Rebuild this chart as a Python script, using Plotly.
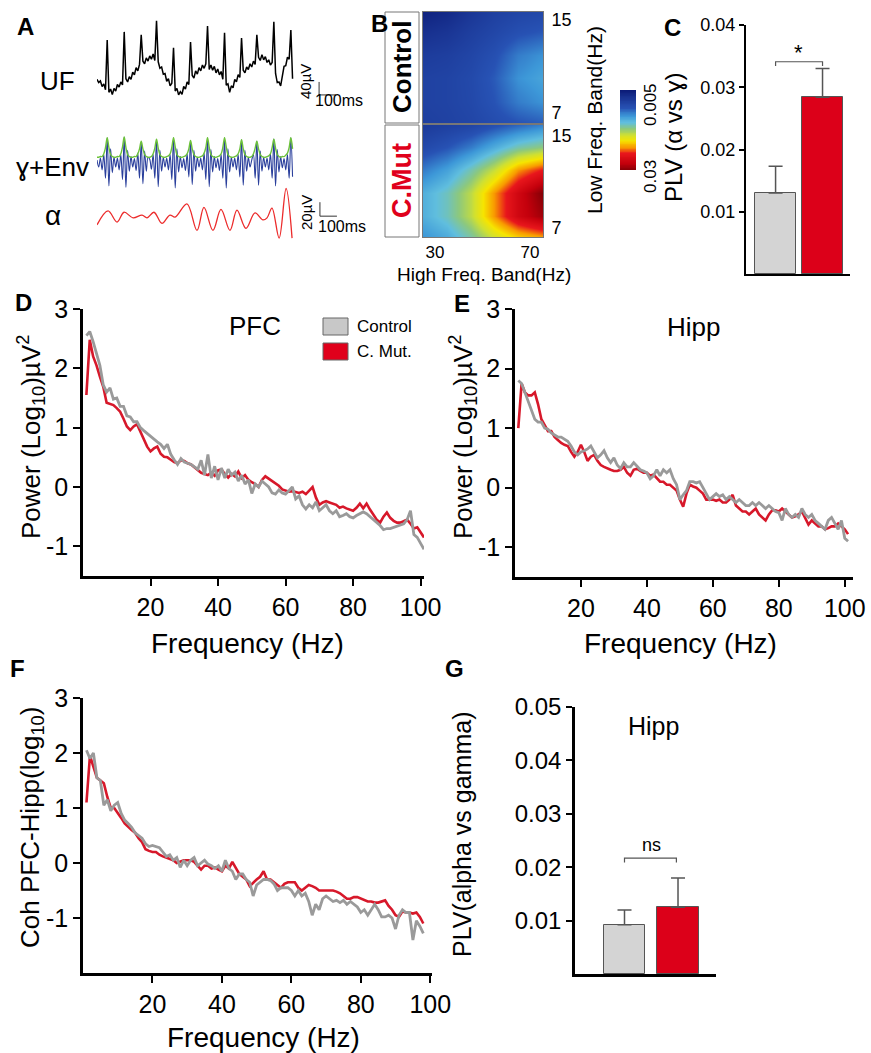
import numpy as np
import plotly.graph_objects as go

W, H = 871, 1053
FONT = "Liberation Sans, Arial, Helvetica, sans-serif"

# ---------------- DATA ----------------
# Panel A (traces), time grid in ms
t_ms = np.arange(116) * 10
uf_uV = [2, -8, -3, -20, -12, -30, 123, -38, -28, -45,
         -26, -34, -14, -22, -6, -15, 148, 4, -6, 10,
         2, 24, 16, 38, 28, 48, 139, 58, 50, 68,
         58, 74, 64, 80, 60, 182, 56, 36, 40, 18,
         20, -4, 4, -18, -10, 99, -34, -26, -46, -36,
         -44, -20, -28, -6, -14, 117, 14, 6, 28, 18,
         38, 28, 46, 36, 50, 166, 32, 46, 30, 42,
         22, 34, 16, 26, 2, 145, -16, -12, -38, -18,
         -24, 2, -6, 16, 8, 129, 30, 22, 40, 32,
         50, 40, 58, 48, 139, 70, 60, 78, 62, 72,
         54, 62, 46, 54, 179, 20, -8, -6, -18, 8,
         42, 44, 70, 64, 154, 4]
gamma_uV = [4, -6, 7, -10, 12, -22, 36, -33, 20, -14,
            8, -6, 7, -10, 12, -24, 37, -35, 18, -12,
            9, -6, 6, -11, 14, -22, 30, -30, 17, -12,
            8, 5, -9, 12, -22, 33, -34, 18, -12, 8,
            -6, 7, -10, 12, -24, 36, -36, 20, -13, 9,
            -7, 6, -11, 13, -20, 32, -31, 18, -12, 8,
            -6, 7, -10, 14, -24, 36, -34, 19, -13, 9,
            -7, 6, -11, 12, -22, 36, -36, 20, -13, 8,
            -6, 7, -10, 12, -20, 33, -32, 18, -12, 8,
            -6, 4, 12, -22, 31, -32, 17, -12, 8, -6,
            7, -10, 13, -22, 34, -33, 19, -13, 9, -7,
            6, -10, 12, -22, 36, -20]
env_uV = [8, 8, 9, 9, 13, 22, 36, 22, 12, 9,
          8, 8, 9, 9, 13, 23, 37, 22, 12, 9,
          8, 8, 9, 9, 13, 20, 31, 20, 12, 9,
          8, 8, 9, 13, 21, 34, 21, 12, 9, 8,
          8, 9, 10, 13, 22, 36, 23, 12, 9, 8,
          8, 9, 10, 13, 20, 32, 20, 12, 9, 8,
          8, 9, 10, 14, 22, 36, 22, 12, 9, 8,
          8, 9, 10, 13, 22, 36, 23, 12, 9, 8,
          8, 9, 10, 13, 20, 33, 20, 12, 9, 8,
          8, 9, 13, 21, 31, 20, 12, 9, 8, 8,
          9, 10, 13, 22, 34, 21, 12, 9, 8, 9,
          9, 11, 14, 22, 36, 20]
alpha_t_ms = [0, 65, 118, 159, 212, 265, 294, 335, 382, 429, 459, 529, 588,
              629, 682, 729, 782, 823, 876, 929, 976, 1000, 1029, 1071, 1112, 1147]
alpha_uV = [-11, 9, -7, 7, -1, 3, -1, 7, -9, 3, 0, 19, -19,
            14, -19, 11, -19, 10, -16, 6, -4, -1, 13, -30, 41, -30]

# Panel B (PLV comodulograms); rows = low_freq, columns = high_freq
high_freq = [25, 35, 45, 55, 65, 75]
low_freq = [6, 8, 10, 12, 14, 16]
plv_control = [
    [0.0085, 0.0088, 0.0092, 0.0098, 0.0103, 0.0107],
    [0.0088, 0.0090, 0.0095, 0.0105, 0.0120, 0.0128],
    [0.0088, 0.0090, 0.0096, 0.0108, 0.0128, 0.0136],
    [0.0082, 0.0085, 0.0092, 0.0102, 0.0120, 0.0128],
    [0.0070, 0.0075, 0.0085, 0.0093, 0.0102, 0.0107],
    [0.0055, 0.0062, 0.0075, 0.0085, 0.0090, 0.0093],
]
plv_cmut = [
    [0.0128, 0.0138, 0.0160, 0.0188, 0.0208, 0.0218],
    [0.0142, 0.0157, 0.0185, 0.0228, 0.0268, 0.0290],
    [0.0142, 0.0157, 0.0185, 0.0228, 0.0268, 0.0300],
    [0.0120, 0.0135, 0.0160, 0.0188, 0.0228, 0.0248],
    [0.0095, 0.0105, 0.0120, 0.0140, 0.0160, 0.0170],
    [0.0080, 0.0085, 0.0090, 0.0100, 0.0110, 0.0120],
]
cbar_levels = np.linspace(0.005, 0.03, 51)

# Panel C
groups = ["Control", "C. Mut."]
plv_c = [0.0130, 0.0284]
plv_c_err = [0.0043, 0.0046]

# Panel D (PFC power)
freq_de = np.arange(1, 102)
pfc_cmut = [1.55, 2.48, 2.20, 2.05, 1.86, 1.69, 1.42, 1.40, 1.38, 1.33,
            1.27, 1.15, 1.02, 0.96, 1.02, 1.06, 0.93, 0.79, 0.68, 0.60,
            0.65, 0.68, 0.56, 0.51, 0.50, 0.46, 0.42, 0.40, 0.45, 0.44,
            0.40, 0.38, 0.33, 0.28, 0.24, 0.22, 0.20, 0.24, 0.19, 0.28,
            0.30, 0.22, 0.16, 0.22, 0.18, 0.26, 0.15, 0.20, 0.12, 0.08,
            0.05, 0.00, 0.12, 0.18, 0.14, 0.10, 0.05, 0.02, -0.04, -0.06,
            -0.08, -0.07, -0.09, -0.10, -0.08, -0.12, -0.06, 0.00, -0.18, -0.30,
            -0.26, -0.24, -0.26, -0.28, -0.30, -0.35, -0.33, -0.36, -0.38, -0.40,
            -0.35, -0.28, -0.36, -0.28, -0.38, -0.46, -0.55, -0.60, -0.50, -0.43,
            -0.52, -0.57, -0.60, -0.60, -0.58, -0.55, -0.62, -0.70, -0.68, -0.76,
            -0.85]
pfc_control = [2.55, 2.62, 2.45, 2.25, 2.05, 1.72, 1.60, 1.67, 1.48, 1.50,
               1.36, 1.36, 1.20, 1.18, 1.10, 1.10, 1.00, 0.95, 0.90, 0.86,
               0.80, 0.76, 0.72, 0.65, 0.72, 0.55, 0.46, 0.38, 0.48, 0.42,
               0.40, 0.38, 0.34, 0.30, 0.45, 0.20, 0.55, 0.15, 0.35, 0.12,
               0.32, 0.15, 0.30, 0.20, 0.25, 0.10, 0.20, 0.05, 0.12, -0.11,
               0.05, 0.00, 0.10, 0.05, 0.00, -0.10, -0.12, -0.05, -0.10, -0.12,
               -0.05, 0.00, -0.20, -0.15, -0.30, -0.37, -0.30, -0.35, -0.25, -0.40,
               -0.35, -0.30, -0.40, -0.45, -0.40, -0.50, -0.48, -0.45, -0.50, -0.52,
               -0.48, -0.45, -0.42, -0.45, -0.50, -0.55, -0.60, -0.65, -0.72, -0.70,
               -0.70, -0.68, -0.66, -0.65, -0.62, -0.55, -0.40, -0.80, -0.85, -0.95,
               -1.05]

# Panel E (Hipp power)
hipp_cmut = [1.00, 1.75, 1.60, 1.55, 1.55, 1.60, 1.40, 1.15, 1.05, 0.95,
             0.95, 0.85, 0.80, 0.75, 0.72, 0.70, 0.60, 0.52, 0.60, 0.72,
             0.60, 0.45, 0.52, 0.55, 0.45, 0.38, 0.35, 0.32, 0.30, 0.28,
             0.28, 0.30, 0.35, 0.25, 0.20, 0.30, 0.32, 0.28, 0.25, 0.25,
             0.20, 0.22, 0.15, 0.10, 0.10, 0.05, 0.05, 0.00, -0.05, -0.20,
             -0.32, -0.10, 0.05, 0.02, 0.00, -0.05, -0.10, -0.20, -0.20, -0.20,
             -0.22, -0.20, -0.25, -0.25, -0.20, -0.12, -0.30, -0.35, -0.40, -0.40,
             -0.45, -0.40, -0.35, -0.45, -0.50, -0.55, -0.45, -0.38, -0.38, -0.40,
             -0.35, -0.40, -0.45, -0.50, -0.48, -0.45, -0.40, -0.50, -0.62, -0.55,
             -0.60, -0.65, -0.65, -0.70, -0.68, -0.65, -0.65, -0.60, -0.65, -0.70,
             -0.78]
hipp_control = [1.80, 1.75, 1.60, 1.45, 1.30, 1.15, 1.10, 1.10, 1.00, 0.98,
                0.92, 0.88, 0.85, 0.85, 0.82, 0.78, 0.70, 0.60, 0.55, 0.60,
                0.62, 0.65, 0.70, 0.60, 0.50, 0.55, 0.62, 0.50, 0.42, 0.50,
                0.38, 0.32, 0.42, 0.35, 0.35, 0.42, 0.35, 0.30, 0.28, 0.25,
                0.15, 0.20, 0.30, 0.20, 0.30, 0.25, 0.30, 0.15, 0.05, -0.20,
                -0.12, -0.05, 0.10, 0.10, 0.08, 0.10, 0.00, -0.10, -0.20, -0.15,
                -0.10, -0.15, -0.12, -0.20, -0.15, -0.20, -0.25, -0.20, -0.25, -0.30,
                -0.30, -0.25, -0.30, -0.25, -0.30, -0.35, -0.30, -0.35, -0.40, -0.42,
                -0.55, -0.35, -0.45, -0.50, -0.45, -0.50, -0.35, -0.45, -0.50, -0.45,
                -0.55, -0.60, -0.65, -0.70, -0.55, -0.50, -0.60, -0.70, -0.55, -0.85,
                -0.90]

# Panel F (PFC-Hipp coherence)
freq_f = np.arange(1, 99)
coh_cmut = [1.10, 1.95, 1.75, 1.55, 1.50, 1.45, 1.20, 1.00, 1.00, 0.92,
            0.82, 0.72, 0.65, 0.60, 0.55, 0.45, 0.38, 0.25, 0.22, 0.20,
            0.20, 0.15, 0.12, 0.10, 0.08, 0.05, 0.00, 0.03, 0.05, 0.05,
            0.05, 0.02, -0.05, -0.12, -0.05, -0.05, -0.10, -0.08, -0.12, -0.15,
            -0.05, -0.10, 0.02, -0.10, -0.20, -0.25, -0.30, -0.42, -0.35, -0.30,
            -0.25, -0.15, -0.30, -0.30, -0.35, -0.40, -0.45, -0.38, -0.35, -0.35,
            -0.35, -0.45, -0.50, -0.45, -0.40, -0.42, -0.45, -0.50, -0.50, -0.50,
            -0.50, -0.50, -0.52, -0.55, -0.60, -0.65, -0.65, -0.62, -0.62, -0.65,
            -0.68, -0.70, -0.70, -0.72, -0.72, -0.70, -0.68, -0.78, -0.85, -0.95,
            -0.98, -0.88, -0.90, -0.90, -0.92, -0.90, -0.98, -1.10]
coh_control = [2.05, 1.90, 2.00, 1.55, 1.50, 1.05, 1.15, 0.95, 1.05, 1.10,
               0.90, 0.78, 0.72, 0.65, 0.55, 0.50, 0.45, 0.35, 0.30, 0.32,
               0.30, 0.28, 0.20, 0.12, 0.15, 0.05, 0.10, -0.08, 0.05, -0.05,
               0.05, 0.10, -0.05, 0.00, 0.05, -0.02, -0.05, -0.10, -0.05, -0.15,
               0.05, -0.10, -0.15, -0.30, -0.20, -0.20, -0.30, -0.35, -0.60, -0.40,
               -0.35, -0.30, -0.30, -0.32, -0.38, -0.50, -0.45, -0.45, -0.45, -0.50,
               -0.60, -0.50, -0.60, -0.55, -0.70, -0.95, -0.75, -0.85, -0.65, -0.60,
               -0.65, -0.70, -0.68, -0.72, -0.68, -0.75, -0.70, -0.75, -0.80, -0.90,
               -0.85, -0.95, -0.85, -0.75, -0.85, -0.98, -0.98, -0.95, -1.00, -1.20,
               -0.95, -0.85, -0.90, -0.90, -1.40, -1.05, -1.15, -1.28]

# Panel G
plv_g = [0.0092, 0.0125]
plv_g_err = [0.0028, 0.0055]

# ---------------- STYLE ----------------
RED = "#d7182a"
GRAY = "#9a9a9a"
BAR_GRAY = "#d4d4d4"
BAR_RED = "#dc0019"
JET = [[0.0, "#0c1c78"], [0.10, "#1a3594"], [0.22, "#2752b4"],
       [0.32, "#3d98d8"], [0.40, "#60bede"], [0.48, "#8cc87e"],
       [0.56, "#cfe032"], [0.63, "#f6e400"], [0.71, "#f89a00"],
       [0.79, "#e8161c"], [0.91, "#c4000c"], [1.0, "#850006"]]


def fx(x):
    return x / W


def fy(y):
    return 1 - y / H


def xdom(a, b):
    return [fx(a), fx(b)]


def ydom(top, bottom):
    return [fy(bottom), fy(top)]


fig = go.Figure()

# Panel A traces
fig.add_trace(go.Scatter(x=t_ms, y=uf_uV, mode="lines",
                         line=dict(color="black", width=1.5), xaxis="x", yaxis="y"))
fig.add_trace(go.Scatter(x=t_ms, y=gamma_uV, mode="lines",
                         line=dict(color="#2a3f9c", width=1.1, shape="spline"),
                         xaxis="x2", yaxis="y2"))
fig.add_trace(go.Scatter(x=t_ms, y=env_uV, mode="lines",
                         line=dict(color="#6cc23a", width=1.4, shape="spline"),
                         xaxis="x2", yaxis="y2"))
fig.add_trace(go.Scatter(x=alpha_t_ms, y=alpha_uV, mode="lines",
                         line=dict(color="#ec2b2b", width=1.3, shape="spline"),
                         xaxis="x3", yaxis="y3"))

# Panel B heatmaps
fig.add_trace(go.Heatmap(x=high_freq, y=low_freq, z=plv_control, colorscale=JET,
                         zmin=0.005, zmax=0.03, zsmooth="best", showscale=False,
                         xaxis="x4", yaxis="y4"))
fig.add_trace(go.Heatmap(x=high_freq, y=low_freq, z=plv_cmut, colorscale=JET,
                         zmin=0.005, zmax=0.03, zsmooth="best", showscale=False,
                         xaxis="x5", yaxis="y5"))
fig.add_trace(go.Heatmap(x=[0, 1], y=cbar_levels, z=[[v, v] for v in cbar_levels],
                         colorscale=JET, zmin=0.005, zmax=0.03, zsmooth="best",
                         showscale=False, xaxis="x6", yaxis="y6"))

# Panel C bars
fig.add_trace(go.Bar(x=[0, 1], y=plv_c, width=0.87,
                     marker=dict(color=[BAR_GRAY, BAR_RED], line=dict(color="#555", width=1)),
                     error_y=dict(type="data", array=plv_c_err, arrayminus=[0, 0], symmetric=False,
                                  color="#555", thickness=1.5, width=7),
                     xaxis="x7", yaxis="y7"))

# Panels D, E, F lines
for xs, cm, ct, ax in [(freq_de, pfc_cmut, pfc_control, "8"),
                       (freq_de, hipp_cmut, hipp_control, "9"),
                       (freq_f, coh_cmut, coh_control, "10")]:
    fig.add_trace(go.Scatter(x=xs, y=cm, mode="lines", line=dict(color=RED, width=2.6),
                             xaxis="x" + ax, yaxis="y" + ax))
    fig.add_trace(go.Scatter(x=xs, y=ct, mode="lines", line=dict(color=GRAY, width=2.8),
                             xaxis="x" + ax, yaxis="y" + ax))

# Panel G bars
fig.add_trace(go.Bar(x=[0, 1], y=plv_g, width=0.77,
                     marker=dict(color=[BAR_GRAY, BAR_RED], line=dict(color="#555", width=1)),
                     error_y=dict(type="data", array=plv_g_err, arrayminus=[0, 0], symmetric=False,
                                  color="#555", thickness=1.5, width=7),
                     xaxis="x11", yaxis="y11"))

hidden = dict(visible=False, fixedrange=True, automargin=False)
layout = dict(
    width=W, height=H, margin=dict(l=0, r=0, t=0, b=0, pad=0, autoexpand=False),
    paper_bgcolor="white", plot_bgcolor="rgba(0,0,0,0)",
    showlegend=False, font=dict(family=FONT, color="black"),
    bargap=0, hovermode=False,
)
# Panel A axes
layout["xaxis"] = dict(domain=xdom(97, 340), range=[0, 1429], anchor="y", **hidden)
layout["yaxis"] = dict(domain=ydom(15, 105), range=[-77, 200], anchor="x", **hidden)
layout["xaxis2"] = dict(domain=xdom(97, 340), range=[0, 1429], anchor="y2", **hidden)
layout["yaxis2"] = dict(domain=ydom(130, 195), range=[-46, 47], anchor="x2", **hidden)
layout["xaxis3"] = dict(domain=xdom(97, 340), range=[0, 1429], anchor="y3", **hidden)
layout["yaxis3"] = dict(domain=ydom(185, 243), range=[-37, 46], anchor="x3", **hidden)

# Panel B axes
hm_line = dict(showline=True, mirror=True, linecolor="#777", linewidth=1, showgrid=False,
               zeroline=False, ticks="", fixedrange=True, automargin=False)
layout["xaxis4"] = dict(domain=xdom(423, 543), range=[25, 75.5], anchor="y4",
                        showticklabels=False, **hm_line)
layout["yaxis4"] = dict(domain=ydom(12, 123), range=[6.15, 15.7], anchor="x4", side="right",
                        tickvals=[7, 15], ticktext=["7", "15"], tickfont=dict(size=18),
                        ticklabelstandoff=4, **hm_line)
layout["xaxis5"] = dict(domain=xdom(423, 543), range=[25, 75.5], anchor="y5",
                        tickvals=[30, 70], ticktext=["30", "70"], tickfont=dict(size=17),
                        ticklabelstandoff=0, **hm_line)
layout["yaxis5"] = dict(domain=ydom(125, 237), range=[6.2, 15.95], anchor="x5", side="right",
                        tickvals=[7, 15], ticktext=["7", "15"], tickfont=dict(size=18),
                        ticklabelstandoff=4, **hm_line)
layout["xaxis6"] = dict(domain=xdom(620, 636), range=[0, 1], anchor="y6", **hidden)
layout["yaxis6"] = dict(domain=ydom(90, 170), range=[0.03, 0.005], anchor="x6", **hidden)

# Panel C axes
blk = dict(showline=True, linecolor="black", linewidth=2, showgrid=False, zeroline=False,
           fixedrange=True, automargin=False)
layout["xaxis7"] = dict(domain=xdom(746, 850), range=[-0.63, 1.585], anchor="y7",
                        ticks="", showticklabels=False, **blk)
layout["yaxis7"] = dict(domain=ydom(25, 274), range=[0, 0.04], anchor="x7",
                        tickvals=[0.01, 0.02, 0.03, 0.04],
                        ticktext=["0.01", "0.02", "0.03", "0.04"],
                        ticks="outside", ticklen=5, tickwidth=1.5, tickcolor="black",
                        tickfont=dict(size=18), **blk)

# Panels D, E, F axes
freq_ticks = dict(tickvals=[20, 40, 60, 80, 100], ticktext=["20", "40", "60", "80", "100"],
                  ticks="outside", ticklen=7, tickwidth=2, tickcolor="black",
                  tickfont=dict(size=25))
line_blk = dict(showline=True, linecolor="black", linewidth=2.5, showgrid=False,
                zeroline=False, fixedrange=True, automargin=False)
y_ticks = dict(tickvals=[-1, 0, 1, 2, 3], ticktext=["-1", "0", "1", "2", "3"],
               ticks="outside", ticklen=7, tickwidth=2, tickcolor="black",
               tickfont=dict(size=25))
layout["xaxis8"] = dict(domain=xdom(83, 424), range=[0, 101], anchor="y8", **freq_ticks, **line_blk)
layout["yaxis8"] = dict(domain=ydom(309, 576), range=[-1.5, 3], anchor="x8", **y_ticks, **line_blk)
layout["xaxis9"] = dict(domain=xdom(515, 853), range=[0, 102.5], anchor="y9", **freq_ticks, **line_blk)
layout["yaxis9"] = dict(domain=ydom(309, 577), range=[-1.5, 3], anchor="x9", **y_ticks, **line_blk)
layout["xaxis10"] = dict(domain=xdom(83, 432), range=[0, 100.5], anchor="y10", **freq_ticks, **line_blk)
layout["yaxis10"] = dict(domain=ydom(698, 973), range=[-2, 3], anchor="x10", **y_ticks, **line_blk)

# Panel G axes
layout["xaxis11"] = dict(domain=xdom(575, 716), range=[-0.925, 1.71], anchor="y11",
                         ticks="", showticklabels=False, **line_blk)
layout["yaxis11"] = dict(domain=ydom(707, 974), range=[0, 0.05], anchor="x11",
                         tickvals=[0.01, 0.02, 0.03, 0.04, 0.05],
                         ticktext=["0.01", "0.02", "0.03", "0.04", "0.05"],
                         ticks="outside", ticklen=6, tickwidth=2, tickcolor="black",
                         tickfont=dict(size=24), **line_blk)

fig.update_layout(**layout)


# ---------------- ANNOTATIONS ----------------
def ann(text, x, y, size, angle=0, bold=False, color="black", xanchor="center"):
    if bold:
        text = "<b>" + text + "</b>"
    fig.add_annotation(text=text, x=fx(x), y=fy(y), xref="paper", yref="paper",
                       showarrow=False, textangle=angle, xanchor=xanchor, yanchor="middle",
                       font=dict(size=size, color=color, family=FONT))


for letter, x, y in [("A", 25, 26), ("B", 379, 23), ("C", 672, 27), ("D", 23, 302),
                     ("E", 462, 303), ("F", 17, 668), ("G", 455, 668)]:
    ann(letter, x, y, 24, bold=True)

# Panel A labels
ann("UF", 57, 81, 26)
ann("ɣ+Env", 52, 167, 26)
ann("α", 53, 215, 28)
ann("40µV", 306, 82, 15, angle=-90)
ann("100ms", 339, 100, 16)
ann("20µV", 307, 213, 15, angle=-90)
ann("100ms", 342, 226, 16)

# Panel B labels
ann("Control", 402, 67, 26, angle=-90, bold=True)
ann("C.Mut", 402, 181, 27, angle=-90, bold=True, color="#e0001b")
ann("Low Freq. Band(Hz)", 594, 120, 21, angle=-90)
ann("High Freq. Band(Hz)", 484, 274, 19)
ann("0.005", 650, 105, 17, angle=-90)
ann("0.03", 650, 177, 17, angle=-90)

# Panel C labels
ann("PLV (α vs ɣ)", 673, 138, 24, angle=-90)
ann("*", 798, 52, 22)

# Panels D, E, F labels
ann("PFC", 255, 326, 26)
ann("Control", 355, 326, 17, xanchor="left")
ann("C. Mut.", 355, 352, 17, xanchor="left")
ann("Frequency (Hz)", 247, 643, 28)
ann("Power (Log<sub>10</sub>)µV<sup>2</sup>", 31, 437, 26, angle=-90)
ann("Hipp", 693, 327, 26)
ann("Frequency (Hz)", 680, 643, 28)
ann("Power (Log<sub>10</sub>)µV<sup>2</sup>", 463, 437, 26, angle=-90)
ann("Frequency (Hz)", 263, 1037, 28)
ann("Coh PFC-Hipp(log<sub>10</sub>)", 31, 828, 26, angle=-90)

# Panel G labels
ann("Hipp", 653, 726, 25)
ann("ns", 651, 845, 18)
ann("PLV(alpha vs gamma)", 462, 835, 25, angle=-90)

# ---------------- SHAPES ----------------
# scale bars (in trace units)
fig.add_shape(type="path", path="M1306,-6 L1306,-46 L1406,-46", xref="x", yref="y",
              line=dict(color="#333", width=1))
fig.add_shape(type="path", path="M1311,21.4 L1311,1.4 L1411,1.4", xref="x3", yref="y3",
              line=dict(color="#333", width=1))
# label boxes of panel B
for top, bottom in [(12, 123), (125, 237)]:
    fig.add_shape(type="rect", x0=fx(385), x1=fx(419), y0=fy(bottom), y1=fy(top),
                  xref="paper", yref="paper", line=dict(color="#777", width=1))
# significance brackets
fig.add_shape(type="path", path="M0,0.0334 L0,0.0341 L1,0.0341 L1,0.0334",
              xref="x7", yref="y7", line=dict(color="#555", width=1.2))
fig.add_shape(type="path", path="M0,0.0209 L0,0.0217 L0.97,0.0217 L0.97,0.0209",
              xref="x11", yref="y11", line=dict(color="#555", width=1.2))
# legend swatches of panel D
fig.add_shape(type="rect", x0=fx(323), x1=fx(348), y0=fy(335), y1=fy(318),
              xref="paper", yref="paper", fillcolor="#c8c8c8", line=dict(color="#666", width=1))
fig.add_shape(type="rect", x0=fx(323), x1=fx(348), y0=fy(360), y1=fy(343),
              xref="paper", yref="paper", fillcolor="#e0001b", line=dict(color="#666", width=1))

fig.write_html("out.html", config={"displayModeBar": False},
               post_script="document.body.style.margin='0px';")
